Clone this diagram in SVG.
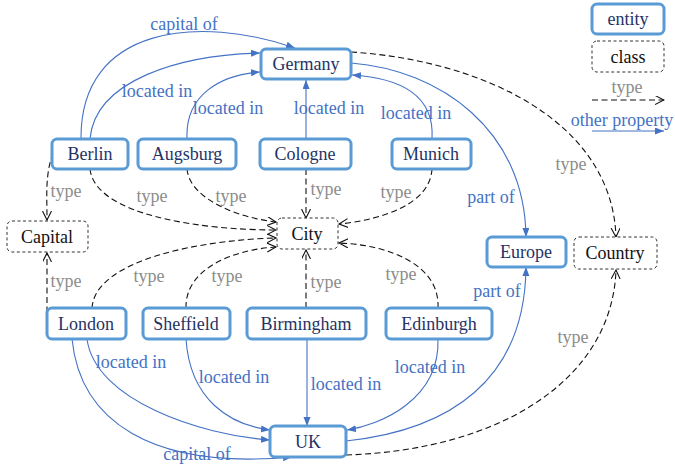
<svg xmlns="http://www.w3.org/2000/svg" width="675" height="470" viewBox="0 0 675 470" font-family="'Liberation Serif', 'DejaVu Serif', serif">
<style>
.ent rect{fill:#fff;stroke:#5b9bd5;stroke-width:3}
.cls rect{fill:#fff;stroke:#333;stroke-width:1;stroke-dasharray:3,2.5}
text{font-family:'Liberation Serif','DejaVu Serif',serif;font-size:18px;text-anchor:middle}
.ent text{fill:#1f3366}
.cls text{fill:#111}
.p{fill:none;stroke:#4472c4;stroke-width:1.1;marker-end:url(#ab)}
.t{fill:none;stroke:#111;stroke-width:1.1;stroke-dasharray:6,3.5;marker-end:url(#ao)}
.lp{fill:#4472c4}
.lt{fill:#8c8c8c}
</style>
<defs>
<marker id="ab" markerUnits="userSpaceOnUse" markerWidth="10" markerHeight="8" refX="9" refY="3.5" orient="auto"><path d="M0,0 L9,3.5 L0,7 z" fill="#4472c4"/></marker>
<marker id="ao" markerUnits="userSpaceOnUse" markerWidth="10" markerHeight="10" refX="9" refY="4.5" orient="auto"><path d="M0,0 L9,4.5 L0,9" fill="none" stroke="#111" stroke-width="1.1"/></marker>
</defs>
<g id="connectors">
<path class="p" d="M81,139 C 80,25 200,15 295,48"/>
<path class="p" d="M90,139 C 95,80 180,55 260,53"/>
<path class="p" d="M187,139 C 185,95 220,75 260,72"/>
<path class="p" d="M306,139 L306,80"/>
<path class="p" d="M432,139 C 435,95 400,78 352,75"/>
<path class="p" d="M351,63 C 440,70 525,130 526,237"/>
<path class="t" d="M351,52 C 480,60 612,120 616,237"/>
<path class="t" d="M53,153 C 45,175 47,195 47,220"/>
<path class="t" d="M47,322 L47,253"/>
<path class="t" d="M90,169 C 95,215 200,230 276,230"/>
<path class="t" d="M187,169 C 190,200 240,218 276,222"/>
<path class="t" d="M306,169 L306,218"/>
<path class="t" d="M432,169 C 430,205 380,220 339,224"/>
<path class="t" d="M92,308 C 95,260 200,240 276,238"/>
<path class="t" d="M186,308 C 185,270 230,250 276,247"/>
<path class="t" d="M306,308 L306,250"/>
<path class="t" d="M438,308 C 440,265 390,245 339,243"/>
<path class="t" d="M346,455 C 500,450 612,380 616,270"/>
<path class="p" d="M87,339 C 95,400 200,435 270,440"/>
<path class="p" d="M72,339 C 80,420 150,470 292,457"/>
<path class="p" d="M186,339 C 190,400 230,425 270,430"/>
<path class="p" d="M307,339 L307,426"/>
<path class="p" d="M438,339 C 440,400 380,425 347,430"/>
<path class="p" d="M346,441 C 450,430 525,380 526,267"/>
<path class="t" d="M592,100 L664,100"/>
<path class="p" d="M592,131 L664,131"/>
</g>
<g id="labels">
<text class="lp" x="184" y="30">capital of</text>
<text class="lp" x="157" y="97">located in</text>
<text class="lp" x="228" y="114">located in</text>
<text class="lp" x="329" y="114">located in</text>
<text class="lp" x="416" y="119">located in</text>
<text class="lp" x="491" y="203">part of</text>
<text class="lt" x="571" y="170">type</text>
<text class="lt" x="66" y="197">type</text>
<text class="lt" x="152" y="202">type</text>
<text class="lt" x="231" y="202">type</text>
<text class="lt" x="326" y="195">type</text>
<text class="lt" x="396" y="198">type</text>
<text class="lt" x="66" y="287">type</text>
<text class="lt" x="149" y="282">type</text>
<text class="lt" x="227" y="282">type</text>
<text class="lt" x="326" y="288">type</text>
<text class="lt" x="401" y="280">type</text>
<text class="lp" x="497" y="297">part of</text>
<text class="lt" x="573" y="343">type</text>
<text class="lp" x="131" y="368">located in</text>
<text class="lp" x="234" y="383">located in</text>
<text class="lp" x="346" y="390">located in</text>
<text class="lp" x="430" y="373">located in</text>
<text class="lp" x="197" y="460">capital of</text>
<text class="lt" x="627" y="93">type</text>
<text class="lp" x="622" y="126">other property</text>
</g>
<g id="Germany" class="ent"><rect x="261" y="49" width="90" height="30" rx="5"/><text x="306" y="70">Germany</text></g>
<g id="Berlin" class="ent"><rect x="52" y="139" width="76" height="30" rx="5"/><text x="90" y="160">Berlin</text></g>
<g id="Augsburg" class="ent"><rect x="138" y="139" width="98" height="30" rx="5"/><text x="187" y="160">Augsburg</text></g>
<g id="Cologne" class="ent"><rect x="260" y="139" width="91" height="30" rx="5"/><text x="305" y="160">Cologne</text></g>
<g id="Munich" class="ent"><rect x="392" y="139" width="79" height="30" rx="5"/><text x="431" y="160">Munich</text></g>
<g id="Capital" class="cls"><rect x="7" y="221" width="81" height="31" rx="5"/><text x="47" y="243">Capital</text></g>
<g id="City" class="cls"><rect x="277" y="218" width="61" height="31" rx="5"/><text x="307" y="240">City</text></g>
<g id="Europe" class="ent"><rect x="487" y="237" width="79" height="30" rx="5"/><text x="526" y="258">Europe</text></g>
<g id="Country" class="cls"><rect x="574" y="237" width="83" height="32" rx="5"/><text x="615" y="259">Country</text></g>
<g id="London" class="ent"><rect x="47" y="308" width="79" height="31" rx="5"/><text x="86" y="330">London</text></g>
<g id="Sheffield" class="ent"><rect x="143" y="308" width="87" height="31" rx="5"/><text x="186" y="330">Sheffield</text></g>
<g id="Birmingham" class="ent"><rect x="247" y="308" width="119" height="31" rx="5"/><text x="306" y="330">Birmingham</text></g>
<g id="Edinburgh" class="ent"><rect x="386" y="308" width="106" height="31" rx="5"/><text x="439" y="330">Edinburgh</text></g>
<g id="UK" class="ent"><rect x="270" y="426" width="76" height="31" rx="5"/><text x="308" y="448">UK</text></g>
<g id="legend-entity" class="ent"><rect x="592" y="4" width="72" height="30" rx="5"/><text x="628" y="25">entity</text></g>
<g id="legend-class" class="cls"><rect x="592" y="41" width="72" height="31" rx="5"/><text x="628" y="63">class</text></g>
</svg>
